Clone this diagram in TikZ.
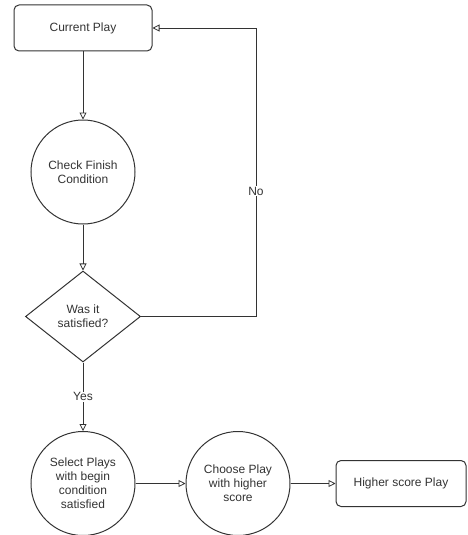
\documentclass[tikz,border=0pt]{standalone}
\usepackage{fontspec}
\setmainfont{Liberation Sans}
\usetikzlibrary{shapes.geometric,arrows.meta}
\definecolor{ln}{HTML}{333333}
\definecolor{tx}{HTML}{333333}
\tikzset{
  base/.style={draw=ln, line width=1pt, text=tx, font=\fontsize{12}{14}\selectfont, align=center, inner sep=0pt},
  roundbox/.style={base, rectangle, rounded corners=5pt, minimum width=138pt, minimum height=46pt},
  endbox/.style={base, rectangle, rounded corners=5pt, minimum width=130pt, minimum height=46pt},
  circ/.style={base, circle, minimum size=104pt},
  dec/.style={base, diamond, minimum width=115pt, minimum height=91pt},
  conn/.style={draw=ln, line width=0.8pt, -{Triangle[open, length=7pt, width=7pt]}},
  lbl/.style={fill=white, text=tx, font=\fontsize{12}{14}\selectfont, inner sep=1pt}
}
\begin{document}
\begin{tikzpicture}[x=1pt, y=-1pt]
\useasboundingbox (0,0) rectangle (467,535);
\node[roundbox] (cur) at (83,28) {Current Play};
\node[circ] (chk) at (83,172) {Check Finish\\Condition};
\node[dec] (was) at (83,316.5) {Was it\\satisfied?};
\node[circ] (sel) at (83,483.5) {Select Plays\\with begin\\condition\\satisfied};
\node[circ] (cho) at (238,483.5) {Choose Play\\with higher\\score};
\node[endbox] (hi) at (401,483.5) {Higher score Play};
\coordinate (nb) at (256,316.5);
\coordinate (nt) at (256,28);
\draw[conn] (was.east) -- (nb) -- node[lbl, pos=0.435] {No} (nt) -- (cur.east);
\draw[conn] (cur) -- (chk);
\draw[conn] (chk) -- (was);
\draw[conn] (was.south) -- node[lbl, pos=0.5] {Yes} (sel.north);
\draw[conn] (sel) -- (cho);
\draw[conn] (cho) -- (hi);
\end{tikzpicture}
\end{document}
